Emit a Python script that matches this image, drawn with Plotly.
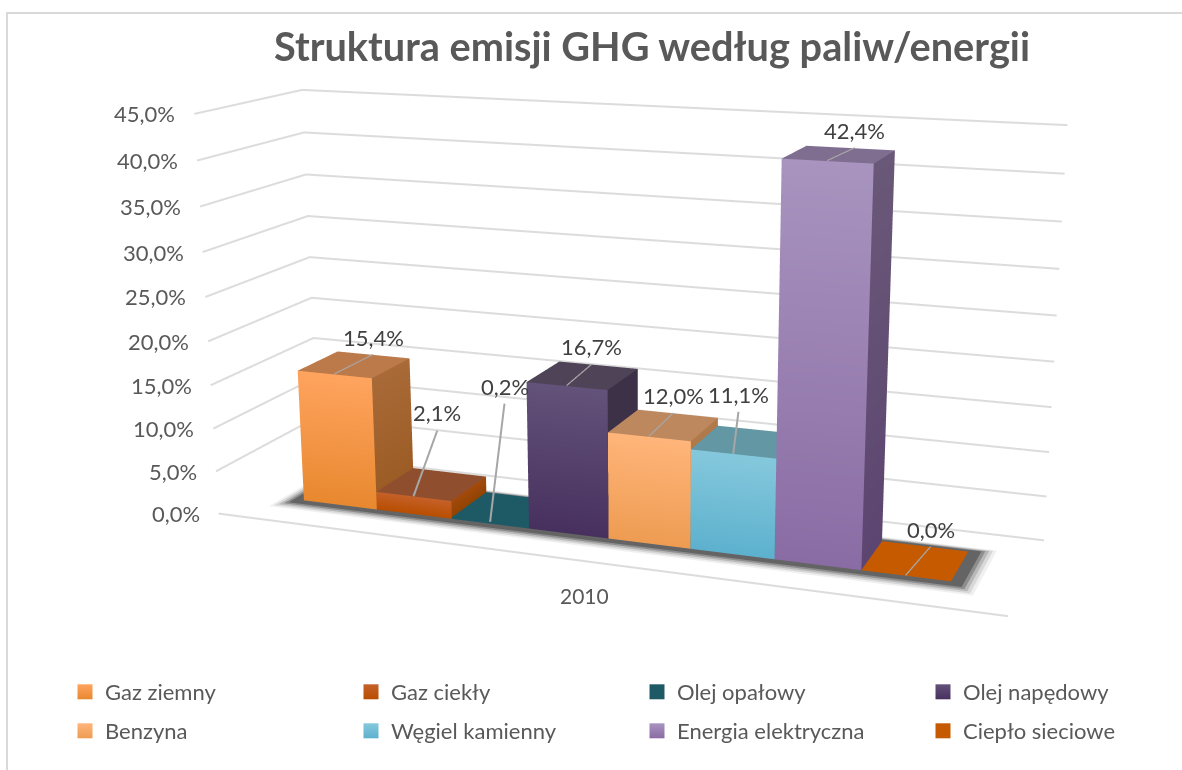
import plotly.graph_objects as go

YEAR = "2010"
names = ["Gaz ziemny", "Gaz ciekły", "Olej opałowy", "Olej napędowy",
         "Benzyna", "Węgiel kamienny", "Energia elektryczna", "Ciepło sieciowe"]
values = [15.4, 2.1, 0.2, 16.7, 12.0, 11.1, 42.4, 0.0]
value_labels = ["15,4%", "2,1%", "0,2%", "16,7%", "12,0%", "11,1%", "42,4%", "0,0%"]
z_ticks = [0, 5, 10, 15, 20, 25, 30, 35, 40, 45]
z_tick_labels = ["0,0%", "5,0%", "10,0%", "15,0%", "20,0%", "25,0%", "30,0%", "35,0%", "40,0%", "45,0%"]
front_top = ["#FFA45F", "#C5612A", "#1E5A66", "#63527A", "#FFB57A", "#85C8DC", "#A894BF", "#C55A00"]
front_bot = ["#E8882F", "#B84E00", "#1E5A66", "#47305E", "#EE9C52", "#5DB1CE", "#8A6CA4", "#C55A00"]
side_top = ["#A86A38", "#A44A0C", "#1E5A66", "#3D3148", "#B07A4A", "#5A8C99", "#6A5878", "#C55A00"]
side_bot = ["#9B5A22", "#8F4200", "#1E5A66", "#3D3148", "#A06A3A", "#4C7C8C", "#5C4570", "#C55A00"]
top_col = ["#BC7A4A", "#8F4F2E", "#1E5A66", "#4F4358", "#BE885F", "#6497A4", "#7F6E90", "#C55A00"]
label_lift = [0, 4.9, 10.9, 0, 0, 1.8, 0, 0]
label_dx = [0, -0.15, -0.23, -0.08, -0.05, -0.25, 0.05, 0.07]

W, H = 1296, 1600      # figure larger than the window: gives the narrow field of view of the reference
TOP = 432              # page offset
EYE = (1.6036, -4.2484, 1.1152)
CENTER = (0.1240, -0.1606, -0.0467)
ASPECT = (2.0, 0.5143, 1.0141)
X_LO, X_HI = -1.2329, 8.2508
Y0, Y1 = 0.3118, 0.7173
Z_HI = z_ticks[-1]
PAD = 0.02             # axis box is padded symmetrically so lines on its walls are not clipped


def px(x):
    return x/W


def py(y):
    return 1-(y+TOP)/H


fig = go.Figure()


def quad_trace(xs, ys, zs, colors):
    return go.Mesh3d(x=xs, y=ys, z=zs, i=[0, 0], j=[1, 2], k=[2, 3], vertexcolor=colors,
                     flatshading=True, hoverinfo="skip", showscale=False,
                     lighting=dict(ambient=1, diffuse=0, specular=0, roughness=1, fresnel=0))


GRID = dict(color="#DCDCDC", width=4)
for t in z_ticks:
    if t == 0:
        gx, gy = [X_LO, X_HI], [1, 1]
    else:
        gx, gy = [X_LO, X_LO, X_HI], [0, 1, 1]
    fig.add_trace(go.Scatter3d(x=gx, y=gy, z=[t]*len(gx), mode="lines", line=GRID,
                               hoverinfo="skip", showlegend=False))
fig.add_trace(go.Scatter3d(x=[X_LO, X_HI], y=[0, 0], z=[0, 0], mode="lines", line=GRID,
                           hoverinfo="skip", showlegend=False))

shadow_layers = [(0.30, 0.13, 0.02, "#F0F0F0"), (0.26, 0.11, 0.03, "#D8D8D8"), (0.22, 0.09, 0.04, "#B8B8B8"),
                 (0.18, 0.07, 0.05, "#8E8E8E"), (0.14, 0.05, 0.06, "#646464")]
for (mx, my, zz, col) in shadow_layers:
    xs = [-0.5-mx, 7.5+mx, 7.5+mx, -0.5-mx]
    ys = [Y0-my, Y0-my, Y1+my*0.5, Y1+my*0.5]
    fig.add_trace(quad_trace(xs, ys, [zz]*4, [col]*4))

for idx, v in enumerate(values):
    x0, x1 = idx-0.5, idx+0.5
    z0, z1 = 0.08, v+0.08
    fig.add_trace(quad_trace([x0, x1, x1, x0], [Y0]*4, [z0, z0, z1, z1],
                             [front_bot[idx], front_bot[idx], front_top[idx], front_top[idx]]))
    fig.add_trace(quad_trace([x1]*4, [Y0, Y1, Y1, Y0], [z0, z0, z1, z1],
                             [side_bot[idx], side_bot[idx], side_top[idx], side_top[idx]]))
    fig.add_trace(quad_trace([x0, x1, x1, x0], [Y0, Y0, Y1, Y1], [z1]*4, [top_col[idx]]*4))

annots = []
for idx, v in enumerate(values):
    ex = idx + label_dx[idx]
    ez = v + label_lift[idx]
    fig.add_trace(go.Scatter3d(x=[idx, ex], y=[Y0, Y1], z=[v+0.1, ez+0.1], mode="lines",
                               line=dict(color="#A6A6A6", width=4), hoverinfo="skip", showlegend=False))
    annots.append(dict(x=ex, y=Y1, z=ez, text=value_labels[idx], showarrow=False, yanchor="bottom", yshift=3,
                       font=dict(family="Lato", size=22, color="#404040")))
for t, lab in zip(z_ticks, z_tick_labels):
    annots.append(dict(x=X_LO, y=0, z=t, text=lab, showarrow=False, xanchor="right", xshift=-17,
                       font=dict(family="Lato", size=22, color="#595959")))
annots.append(dict(x=3.5, y=0, z=0, text=YEAR, showarrow=False, yshift=-34,
                   font=dict(family="Lato", size=21, color="#595959")))

for idx, n in enumerate(names):
    fig.add_trace(go.Scatter(x=[None], y=[None], mode="markers", name=n,
                             legend="legend" if idx < 4 else "legend2",
                             marker=dict(symbol="square", size=15, color=front_top[idx],
                                         gradient=dict(type="vertical", color=front_bot[idx]))))

legend_common = dict(orientation="h", entrywidth=241, entrywidthmode="pixels", xanchor="left",
                     yanchor="middle", x=px(65), bgcolor="rgba(0,0,0,0)",
                     font=dict(family="Lato", size=22, color="#595959"), itemclick=False, itemdoubleclick=False)

hidden = dict(visible=False, showgrid=False, zeroline=False, showbackground=False, showspikes=False,
              showticklabels=False, title="")
x_span = X_HI-X_LO
fig.update_layout(
    width=W, height=H, autosize=False, margin=dict(l=0, r=0, t=0, b=0),
    paper_bgcolor="white", plot_bgcolor="white",
    title=dict(text="Struktura emisji GHG według paliw/energii", x=px(652), y=py(47), xref="paper", yref="paper",
               xanchor="center", yanchor="middle", font=dict(family="Lato", size=39.7, color="#595959", weight="bold")),
    xaxis=dict(visible=False), yaxis=dict(visible=False),
    legend=dict(y=py(692), **legend_common), legend2=dict(y=py(731), **legend_common),
    scene=dict(domain=dict(x=[0, 1], y=[0, 1]),
               xaxis=dict(range=[X_LO-PAD*x_span, X_HI+PAD*x_span], **hidden),
               yaxis=dict(range=[-PAD, 1+PAD], **hidden),
               zaxis=dict(range=[-PAD*Z_HI, Z_HI*(1+PAD)], **hidden),
               aspectmode="manual",
               aspectratio=dict(x=ASPECT[0]*(1+2*PAD), y=ASPECT[1]*(1+2*PAD), z=ASPECT[2]*(1+2*PAD)),
               camera=dict(eye=dict(x=EYE[0], y=EYE[1], z=EYE[2]),
                           center=dict(x=CENTER[0], y=CENTER[1], z=CENTER[2]),
                           up=dict(x=0, y=0, z=1), projection=dict(type="perspective")),
               annotations=annots),
    shapes=[dict(type="rect", xref="paper", yref="paper", x0=px(7), x1=1, y0=0, y1=py(13),
                 line=dict(color="#D9D9D9", width=2))],
)
fig.write_html("out.html", config=dict(displayModeBar=False),
               post_script="document.documentElement.style.overflow='hidden';document.body.style.overflow='hidden';document.body.style.margin='-%dpx 0 0 0';" % TOP)
